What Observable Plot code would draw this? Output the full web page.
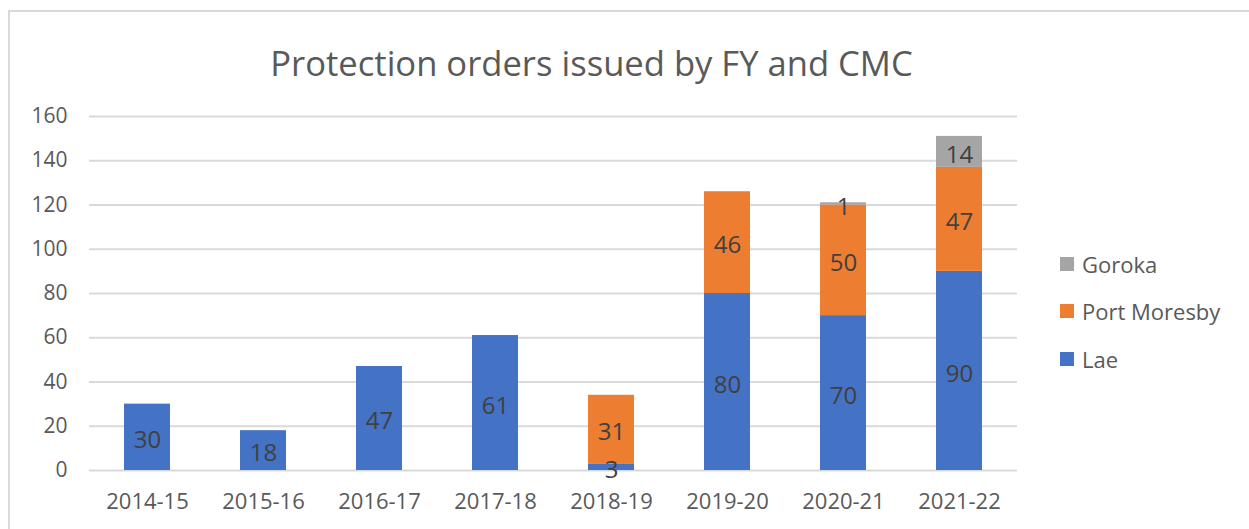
<!DOCTYPE html>
<html>
<head>
<meta charset="utf-8">
<script src="https://cdn.jsdelivr.net/npm/d3@7"></script>
<script src="https://cdn.jsdelivr.net/npm/@observablehq/plot@0.6"></script>
<style>
  body { margin: 0; background: #fff; font-family: "Open Sans", sans-serif; }
  #wrap { position: relative; width: 1249px; height: 529px; overflow: hidden; }
  #frame { position: absolute; left: 8px; top: 10px; width: 1300px; height: 600px;
           border-left: 2px solid #d9d9d9; border-top: 2px solid #d9d9d9; }
  #title { position: absolute; left: 0; top: 46px; width: 1183px; text-align: center;
           font-size: 34.6px; color: #595959; line-height: 1; white-space: nowrap; }
  #chart { position: absolute; left: 0; top: 0; }
  #legend { position: absolute; left: 1060px; top: 240px; font-size: 22px; color: #595959; }
  .item { display: flex; align-items: center; height: 47.5px; }
  .sw { width: 14px; height: 14px; margin-right: 8px; }
</style>
</head>
<body>
<div id="wrap">
  <div id="frame"></div>
  <div id="title">Protection orders issued by FY and CMC</div>
  <div id="chart"></div>
  <div id="legend"></div>
</div>
<script>
const years = ["2014-15","2015-16","2016-17","2017-18","2018-19","2019-20","2020-21","2021-22"];
const series = ["Lae","Port Moresby","Goroka"];
const colors = ["#4472C4","#ED7D31","#A5A5A5"];
const lae = [30,18,47,61,3,80,70,90];
const portMoresby = [0,0,0,0,31,46,50,47];
const goroka = [0,0,0,0,0,0,1,14];
const yTicks = [0,20,40,60,80,100,120,140,160];

const valuesBySeries = [lae, portMoresby, goroka];
const rows = [];
series.forEach((s, i) => years.forEach((y, j) => {
  const v = valuesBySeries[i][j];
  if (v > 0) rows.push({year: y, series: s, value: v});
}));

const plot = Plot.plot({
  width: 1249,
  height: 529,
  marginLeft: 89,
  marginRight: 232,
  marginTop: 116,
  marginBottom: 59,
  style: {fontFamily: "Open Sans, sans-serif", fontSize: "20px", color: "#595959", background: "transparent"},
  x: {domain: years, paddingInner: 0.6, paddingOuter: 0.3, label: null},
  y: {domain: [0, 160], label: null},
  color: {domain: series, range: colors},
  marks: [
    Plot.gridY(yTicks, {stroke: "#d9d9d9", strokeOpacity: 1, strokeWidth: 2}),
    Plot.barY(rows, {x: "year", y: "value", fill: "series"}),
    Plot.text(rows, Plot.stackY({x: "year", y: "value", text: d => String(d.value),
      fill: "#404040", fontSize: 24, dy: 3})),
    Plot.axisX({tickSize: 0, tickPadding: 23, fontSize: 22, fill: "#595959"}),
    Plot.axisY(yTicks, {tickSize: 0, tickPadding: 22, fontSize: 21, fill: "#595959"})
  ]
});
document.getElementById("chart").appendChild(plot);

const legend = document.getElementById("legend");
[...series].reverse().forEach(s => {
  const i = series.indexOf(s);
  const it = document.createElement("div");
  it.className = "item";
  it.innerHTML = `<div class="sw" style="background:${colors[i]}"></div><span>${s}</span>`;
  legend.appendChild(it);
});
</script>
</body>
</html>
